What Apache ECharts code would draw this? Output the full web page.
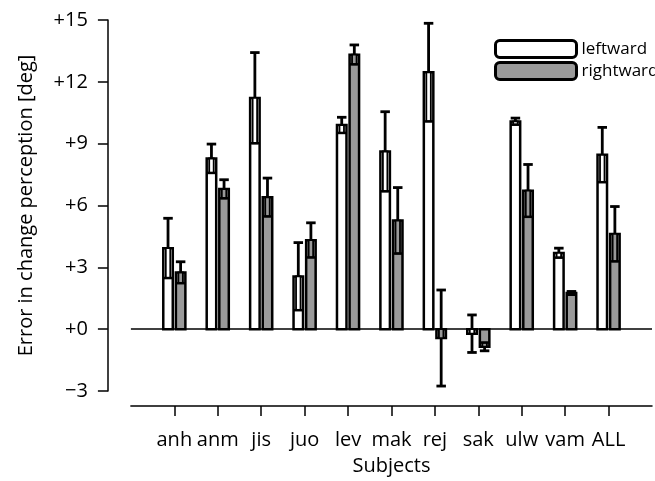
<!DOCTYPE html>
<html>
<head>
<meta charset="utf-8">
<script src="https://cdn.jsdelivr.net/npm/echarts@6/dist/echarts.min.js"></script>
<style>html,body{margin:0;padding:0;background:#fff}#c{width:655px;height:481px}</style>
</head>
<body>
<div id="c"></div>
<script>
var categories = ['anh','anm','jis','juo','lev','mak','rej','sak','ulw','vam','ALL'];
var leftwardMean = [3.93, 8.28, 11.22, 2.56, 9.90, 8.62, 12.46, -0.22, 10.08, 3.70, 8.46];
var leftwardErr  = [1.45, 0.70, 2.20, 1.64, 0.38, 1.93, 2.38, 0.91, 0.16, 0.23, 1.33];
var rightwardMean = [2.75, 6.80, 6.40, 4.32, 13.32, 5.27, -0.43, -0.85, 6.72, 1.75, 4.62];
var rightwardErr  = [0.52, 0.45, 0.93, 0.84, 0.47, 1.60, 2.33, 0.20, 1.27, 0.08, 1.33];
var yTicks = [-3, 0, 3, 6, 9, 12, 15];

var axisCats = [''].concat(categories).concat(['']);
var FONT = 'Open Sans';

function build(means, errs) {
  return means.map(function (m, i) { return [i + 1, m, errs[i]]; });
}

function makeRender(offset, fill) {
  return function (params, api) {
    var x = api.value(0), m = api.value(1), e = api.value(2);
    var d = m >= 0 ? 1 : -1;
    var p0 = api.coord([x, 0]);
    var pm = api.coord([x, m]);
    var cx = p0[0] + offset;
    var w = 9.5, capW = 9.5, thinW = 4.5;
    var ch = [];
    ch.push({type: 'rect', shape: {x: cx - w / 2, y: Math.min(p0[1], pm[1]), width: w, height: Math.abs(p0[1] - pm[1])},
      style: {fill: fill, stroke: '#000', lineWidth: 2.5}});
    var innerEnd = m - d * e;
    if (e <= Math.abs(m)) {
      var pi = api.coord([x, innerEnd]);
      ch.push({type: 'rect', shape: {x: cx - thinW / 2, y: Math.min(pm[1], pi[1]), width: thinW, height: Math.abs(pm[1] - pi[1])},
        style: {fill: fill, stroke: '#000', lineWidth: 1.8}});
      ch.push({type: 'line', shape: {x1: cx - w / 2, y1: pi[1], x2: cx + w / 2, y2: pi[1]}, style: {stroke: '#000', lineWidth: 2.5}});
    } else {
      var pi2 = api.coord([x, innerEnd]);
      ch.push({type: 'rect', shape: {x: cx - thinW / 2, y: Math.min(pm[1], p0[1]), width: thinW, height: Math.abs(pm[1] - p0[1])},
        style: {fill: fill, stroke: '#000', lineWidth: 1.8}});
      ch.push({type: 'line', shape: {x1: cx, y1: p0[1], x2: cx, y2: pi2[1]}, style: {stroke: '#000', lineWidth: 2.8}});
      ch.push({type: 'line', shape: {x1: cx - capW / 2, y1: pi2[1], x2: cx + capW / 2, y2: pi2[1]}, style: {stroke: '#000', lineWidth: 2.8}});
    }
    var po = api.coord([x, m + d * e]);
    ch.push({type: 'line', shape: {x1: cx, y1: pm[1], x2: cx, y2: po[1]}, style: {stroke: '#000', lineWidth: 2.8}});
    ch.push({type: 'line', shape: {x1: cx - capW / 2, y1: po[1], x2: cx + capW / 2, y2: po[1]}, style: {stroke: '#000', lineWidth: 2.8}});
    return {type: 'group', children: ch};
  };
}

var chart = echarts.init(document.getElementById('c'), null, {renderer: 'canvas'});
chart.setOption({
  animation: false,
  backgroundColor: '#fff',
  textStyle: {fontFamily: FONT},
  grid: {left: 130.9, right: -5.1, top: 20, bottom: 90, containLabel: false},
  legend: {
    orient: 'vertical', left: 494, top: 39, padding: 0, itemGap: 2, itemWidth: 81, itemHeight: 17,
    icon: 'roundRect',
    textStyle: {fontFamily: FONT, fontSize: 17, lineHeight: 17, color: '#000'},
    data: [
      {name: 'leftward', itemStyle: {color: '#fff', borderColor: '#000', borderWidth: 3}},
      {name: 'rightward', itemStyle: {color: '#9a9a9a', borderColor: '#000', borderWidth: 3}}
    ]
  },
  xAxis: {
    type: 'category', data: axisCats, boundaryGap: false, offset: 15,
    name: 'Subjects', nameLocation: 'middle', nameGap: 50,
    nameTextStyle: {fontFamily: FONT, fontSize: 20, color: '#000'},
    axisLine: {onZero: false, lineStyle: {color: '#000', width: 1.5}},
    axisTick: {length: 10, lineStyle: {color: '#000', width: 1.5},
      interval: function (i) { return i > 0 && i < axisCats.length - 1; }},
    axisLabel: {interval: 0, margin: 24, fontFamily: FONT, fontSize: 20, color: '#000'},
    splitLine: {show: false}
  },
  yAxis: {
    type: 'value', min: -3, max: 15, interval: 3, offset: 23,
    name: 'Error in change perception [deg]', nameLocation: 'middle', nameGap: 72,
    nameTextStyle: {fontFamily: FONT, fontSize: 20, color: '#000'},
    axisLine: {show: true, lineStyle: {color: '#000', width: 1.5}},
    axisTick: {show: true, length: 10, lineStyle: {color: '#000', width: 1.5}},
    axisLabel: {margin: 20, fontFamily: FONT, fontSize: 20, color: '#000',
      formatter: function (v) { return v < 0 ? '\u2212' + Math.abs(v) : '+' + v; }},
    splitLine: {show: false}
  },
  series: [
    {name: 'leftward', type: 'custom', color: '#fff', encode: {x: 0, y: 1},
      renderItem: makeRender(-6.3, '#fff'), data: build(leftwardMean, leftwardErr),
      markLine: {silent: true, symbol: 'none', label: {show: false},
        lineStyle: {color: '#000', width: 1.5, type: 'solid'}, data: [{yAxis: 0}]},
      z: 3},
    {name: 'rightward', type: 'custom', color: '#9a9a9a', encode: {x: 0, y: 1},
      renderItem: makeRender(6.3, '#9a9a9a'), data: build(rightwardMean, rightwardErr), z: 3}
  ]
});
</script>
</body>
</html>
